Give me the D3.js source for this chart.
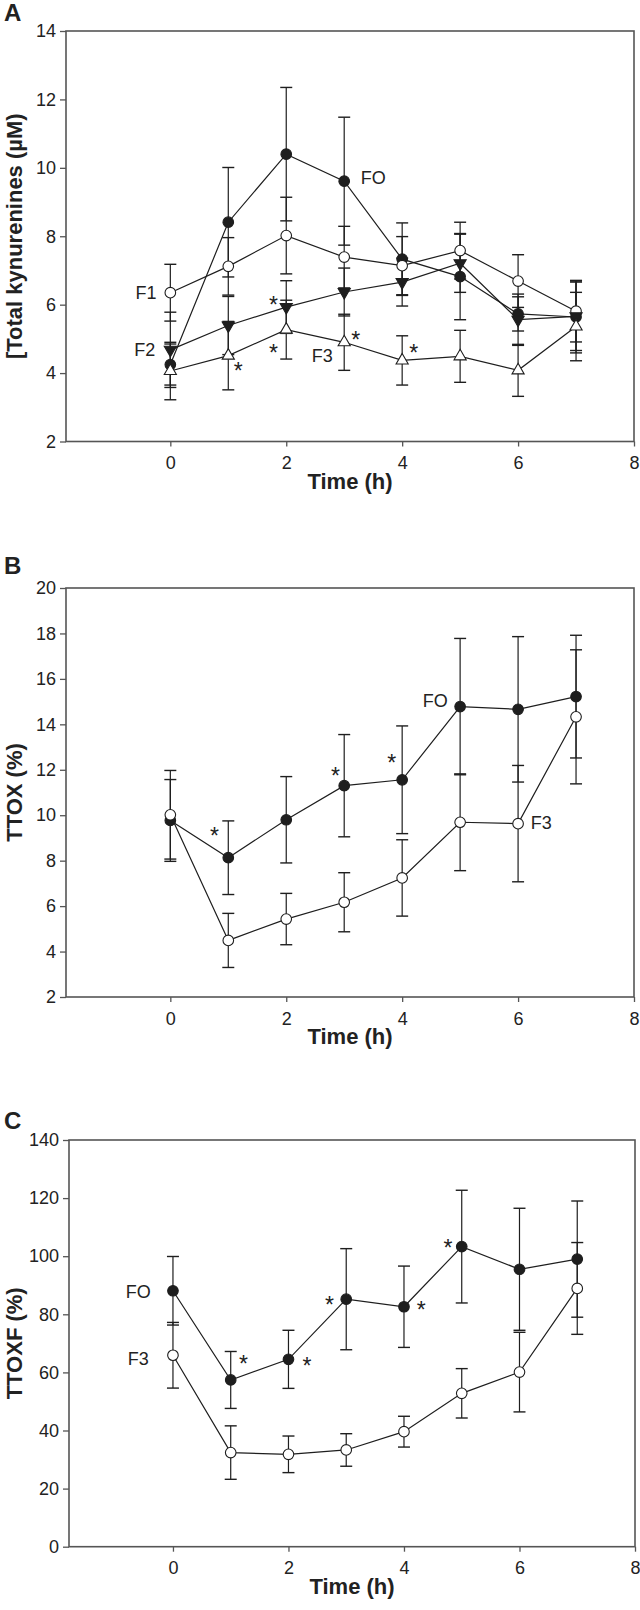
<!DOCTYPE html>
<html><head><meta charset="utf-8">
<script src="https://cdn.jsdelivr.net/npm/d3@7"></script>
<style>body{margin:0;background:#fff}svg{display:block}text{font-family:"Liberation Sans",Arial,Helvetica,sans-serif;fill:#222}</style>
</head><body><svg id="c" width="640" height="1610"></svg>
<script>
// ---------- DATA ----------
const times = [0, 1, 2, 3, 4, 5, 6, 7];

// Panel A: [Total kynurenines] (µM)
const aFO   = [4.25, 8.41, 10.40, 9.61, 7.33, 6.82, 5.73, 5.64];
const aFOse = [0.60, 1.60, 1.95, 1.87, 1.06, 1.26, 0.50, 1.05];
const aF1   = [6.35, 7.12, 8.02, 7.39, 7.14, 7.58, 6.69, 5.81];
const aF1se = [0.83, 0.84, 1.12, 0.90, 0.85, 0.83, 0.77, 0.90];
const aF2   = [4.68, 5.39, 5.93, 6.37, 6.66, 7.21, 5.56, 5.66];
const aF2se = [1.10, 0.85, 0.77, 0.70, 0.70, 0.85, 0.75, 1.00];
const aF3   = [4.06, 4.51, 5.27, 4.90, 4.37, 4.49, 4.08, 5.36];
const aF3se = [0.84, 1.00, 0.86, 0.82, 0.72, 0.76, 0.76, 1.00];

// Panel B: TTOX (%)
const bFO   = [9.77, 8.13, 9.80, 11.30, 11.56, 14.78, 14.66, 15.22];
const bFOse = [1.80, 1.62, 1.90, 2.25, 2.37, 3.00, 3.20, 2.70];
const bF3   = [10.02, 4.49, 5.43, 6.17, 7.24, 9.69, 9.63, 14.33];
const bF3se = [1.95, 1.19, 1.13, 1.30, 1.68, 2.13, 2.56, 2.95];

// Panel C: TTOXF (%)
const cFO   = [88.1, 57.4, 64.5, 85.2, 82.6, 103.3, 95.5, 99.0];
const cFOse = [11.8, 9.8, 10.0, 17.4, 14.0, 19.4, 21.0, 20.0];
const cF3   = [65.9, 32.4, 31.8, 33.3, 39.6, 52.8, 60.1, 88.9];
const cF3se = [11.3, 9.2, 6.3, 5.6, 5.3, 8.5, 13.7, 15.8];

// Tick labels
const xTicks  = [0, 2, 4, 6, 8];
const aYTicks = [2, 4, 6, 8, 10, 12, 14];
const bYTicks = [2, 4, 6, 8, 10, 12, 14, 16, 18, 20];
const cYTicks = [0, 20, 40, 60, 80, 100, 120, 140];

// Series labels (text, time, value)
const aLabels = [["FO", 3.5, 9.71], ["F1", -0.42, 6.35], ["F2", -0.44, 4.68], ["F3", 2.62, 4.51]];
const bLabels = [["FO", 4.57, 15.07], ["F3", 6.40, 9.66]];
const cLabels = [["FO", -0.60, 88.0], ["F3", -0.60, 64.9]];
// Significance asterisks (time, value)
const aStars = [[1.78, 6.17], [1.17, 4.25], [1.78, 4.76], [3.20, 5.15], [4.20, 4.76]];
const bStars = [[0.76, 9.36], [2.85, 11.98], [3.82, 12.57]];
const cStars = [[1.22, 65.2], [2.32, 64.5], [2.71, 85.5], [4.30, 83.8], [4.76, 105.0]];

// ---------- DRAW ----------
const svg = d3.select("#c");
const ink = "#1e1e1e", frame = "#555";

function panel(cfg) {
  const g = svg.append("g");
  const x = d3.scaleLinear().domain([-1.8, 8]).range([cfg.left, cfg.right]);
  const y = d3.scaleLinear().domain(cfg.yDomain).range([cfg.bottom, cfg.top]);

  g.append("text").attr("x", 4).attr("y", cfg.letterY).attr("font-size", 24)
    .attr("font-weight", "bold").attr("fill", "#111").text(cfg.letter);

  const ya = g.append("g").attr("transform", `translate(${cfg.left},0)`)
    .call(d3.axisLeft(y).tickValues(cfg.yTicks).tickSize(6).tickPadding(4).tickFormat(d3.format("d")));
  const xa = g.append("g").attr("transform", `translate(0,${cfg.bottom})`)
    .call(d3.axisBottom(x).tickValues(xTicks).tickSize(5).tickPadding(10).tickFormat(d3.format("d")));
  [ya, xa].forEach(a => {
    a.select(".domain").remove();
    a.selectAll("line").attr("stroke", frame).attr("stroke-width", 1.3);
    a.selectAll("text").attr("font-size", 18).attr("fill", "#222")
      .style("font-family", '"Liberation Sans",Arial,sans-serif');
  });
  g.append("rect").attr("x", cfg.left).attr("y", cfg.top)
    .attr("width", cfg.right - cfg.left).attr("height", cfg.bottom - cfg.top)
    .attr("fill", "none").attr("stroke", frame).attr("stroke-width", 1.6);

  g.append("text").attr("x", (cfg.left + cfg.right) / 2).attr("y", cfg.bottom + 47)
    .attr("text-anchor", "middle").attr("font-size", 22).attr("font-weight", "bold")
    .text("Time (h)");
  g.append("text").attr("transform", `translate(22,${(cfg.top + cfg.bottom) / 2}) rotate(-90)`)
    .attr("text-anchor", "middle").attr("font-size", 22).attr("font-weight", "bold")
    .text(cfg.yTitle);

  const line = d3.line().x((d, i) => x(times[i])).y(d => y(d));
  cfg.series.forEach(s => {
    g.append("path").attr("d", line(s.v)).attr("fill", "none")
      .attr("stroke", ink).attr("stroke-width", 1.2);
  });
  const cap = 6;
  cfg.series.forEach(s => {
    s.v.forEach((v, i) => {
      const xi = x(times[i]), y1 = y(v + s.se[i]), y0 = y(v - s.se[i]);
      g.append("line").attr("x1", xi).attr("x2", xi).attr("y1", y1).attr("y2", y0)
        .attr("stroke", ink).attr("stroke-width", 1.2);
      [y1, y0].forEach(yy => g.append("line").attr("x1", xi - cap).attr("x2", xi + cap)
        .attr("y1", yy).attr("y2", yy).attr("stroke", ink).attr("stroke-width", 1.4));
    });
  });
  cfg.series.forEach(s => {
    s.v.forEach((v, i) => {
      const xi = x(times[i]), yi = y(v);
      const fill = s.filled ? ink : "#fff";
      if (s.shape === "circle") {
        g.append("circle").attr("cx", xi).attr("cy", yi).attr("r", 5.3)
          .attr("fill", fill).attr("stroke", ink).attr("stroke-width", 1.1);
      } else {
        const sym = d3.symbol().type(d3.symbolTriangle).size(64);
        g.append("path").attr("d", sym())
          .attr("transform", `translate(${xi},${yi})` + (s.shape === "down" ? " rotate(180)" : ""))
          .attr("fill", fill).attr("stroke", ink).attr("stroke-width", 1.1);
      }
    });
  });
  cfg.labels.forEach(([t, tx, ty]) => {
    g.append("text").attr("x", x(tx)).attr("y", y(ty)).attr("dy", "0.36em")
      .attr("text-anchor", "middle").attr("font-size", 18).text(t);
  });
  cfg.stars.forEach(([tx, ty]) => {
    g.append("text").attr("x", x(tx)).attr("y", y(ty)).attr("dy", "0.62em")
      .attr("text-anchor", "middle").attr("font-size", 23).text("*");
  });
}

panel({
  letter: "A", letterY: 21, left: 66, right: 634, top: 31, bottom: 441.5,
  yDomain: [2, 14], yTicks: aYTicks, yTitle: "[Total kynurenines (µM)",
  series: [
    { v: aFO, se: aFOse, shape: "circle", filled: true },
    { v: aF1, se: aF1se, shape: "circle", filled: false },
    { v: aF2, se: aF2se, shape: "down", filled: true },
    { v: aF3, se: aF3se, shape: "up", filled: false }
  ],
  labels: aLabels, stars: aStars
});
panel({
  letter: "B", letterY: 574, left: 66, right: 634, top: 588, bottom: 997,
  yDomain: [2, 20], yTicks: bYTicks, yTitle: "TTOX (%)",
  series: [
    { v: bFO, se: bFOse, shape: "circle", filled: true },
    { v: bF3, se: bF3se, shape: "circle", filled: false }
  ],
  labels: bLabels, stars: bStars
});
panel({
  letter: "C", letterY: 1129, left: 69, right: 635, top: 1140, bottom: 1546.7,
  yDomain: [0, 140], yTicks: cYTicks, yTitle: "TTOXF (%)",
  series: [
    { v: cFO, se: cFOse, shape: "circle", filled: true },
    { v: cF3, se: cF3se, shape: "circle", filled: false }
  ],
  labels: cLabels, stars: cStars
});
</script></body></html>
